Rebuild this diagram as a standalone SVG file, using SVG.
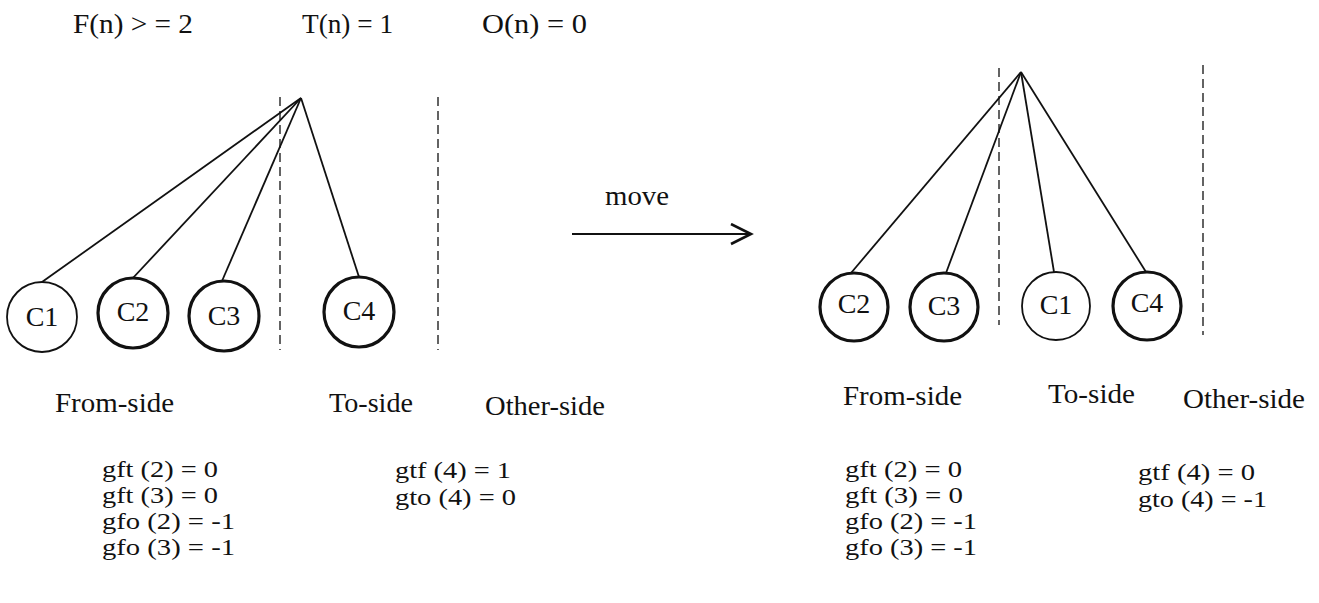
<svg xmlns="http://www.w3.org/2000/svg" width="1319" height="603" viewBox="0 0 1319 603">
<style>
text{font-family:"Liberation Serif","Times New Roman",serif;fill:#111;}
.h{font-size:27px;}
.eq{font-size:24px;}
.lb{font-size:27px;}
.cl{font-size:28px;text-anchor:middle;}
.edge{stroke:#111;stroke-width:1.8;fill:none;}
.dash{stroke:#222;stroke-width:1.4;stroke-dasharray:9 5;fill:none;}
.thin{fill:#fff;stroke:#111;stroke-width:1.8;}
.thick{fill:#fff;stroke:#111;stroke-width:3.2;}
</style>
<defs>
<marker id="chev" markerWidth="26" markerHeight="26" refX="21" refY="11" orient="auto" markerUnits="userSpaceOnUse">
<path d="M1,1 L21,11 L1,21" fill="none" stroke="#111" stroke-width="2.6"/>
</marker>
</defs>
<rect width="1319" height="603" fill="#fff"/>
<g id="header">
<text class="h" x="73" y="33" textLength="120" lengthAdjust="spacingAndGlyphs">F(n) &gt; = 2</text>
<text class="h" x="302" y="33" textLength="91" lengthAdjust="spacingAndGlyphs">T(n) = 1</text>
<text class="h" x="482" y="33" textLength="105" lengthAdjust="spacingAndGlyphs">O(n)  = 0</text>
</g>
<g id="dividers">
<line class="dash" x1="280" y1="97" x2="280" y2="350"/>
<line class="dash" x1="438" y1="97" x2="438" y2="350"/>
<line class="dash" x1="999" y1="68" x2="999" y2="325"/>
<line class="dash" x1="1203" y1="65" x2="1203" y2="335"/>
</g>
<g id="connectors">
<line class="edge" x1="301" y1="98" x2="42" y2="282"/>
<line class="edge" x1="301" y1="98" x2="132" y2="279"/>
<line class="edge" x1="301" y1="98" x2="222" y2="281"/>
<line class="edge" x1="301" y1="98" x2="359" y2="277"/>
<line class="edge" x1="1021" y1="72" x2="851" y2="273"/>
<line class="edge" x1="1021" y1="72" x2="946" y2="273"/>
<line class="edge" x1="1021" y1="72" x2="1054" y2="272"/>
<line class="edge" x1="1021" y1="72" x2="1146" y2="272"/>
<line class="edge" x1="572" y1="234" x2="751" y2="234" marker-end="url(#chev)" stroke-width="2.4"/>
<text class="lb" x="605" y="205" textLength="64" lengthAdjust="spacingAndGlyphs">move</text>
</g>
<g id="L-C1"><circle class="thin" cx="42" cy="317" r="35"/><text class="cl" x="42" y="326">C1</text></g>
<g id="L-C2"><circle class="thick" cx="133" cy="313" r="35"/><text class="cl" x="133" y="321">C2</text></g>
<g id="L-C3"><circle class="thick" cx="224" cy="316" r="35"/><text class="cl" x="224" y="325">C3</text></g>
<g id="L-C4"><circle class="thick" cx="359" cy="312" r="35"/><text class="cl" x="359" y="320">C4</text></g>
<g id="R-C2"><circle class="thick" cx="854" cy="307" r="34"/><text class="cl" x="854" y="313">C2</text></g>
<g id="R-C3"><circle class="thick" cx="944" cy="307" r="34"/><text class="cl" x="944" y="315">C3</text></g>
<g id="R-C1"><circle class="thin" cx="1056" cy="306" r="34"/><text class="cl" x="1056" y="314">C1</text></g>
<g id="R-C4"><circle class="thick" cx="1147" cy="306" r="34"/><text class="cl" x="1147" y="312">C4</text></g>
<g id="side-labels">
<text class="lb" x="55" y="412" textLength="119" lengthAdjust="spacingAndGlyphs">From-side</text>
<text class="lb" x="329" y="412" textLength="84" lengthAdjust="spacingAndGlyphs">To-side</text>
<text class="lb" x="485" y="415" textLength="120" lengthAdjust="spacingAndGlyphs">Other-side</text>
<text class="lb" x="843" y="405" textLength="119" lengthAdjust="spacingAndGlyphs">From-side</text>
<text class="lb" x="1048" y="403" textLength="87" lengthAdjust="spacingAndGlyphs">To-side</text>
<text class="lb" x="1183" y="408" textLength="122" lengthAdjust="spacingAndGlyphs">Other-side</text>
</g>
<g id="left-values">
<text class="eq" x="102" y="477" textLength="116" lengthAdjust="spacingAndGlyphs">gft (2) = 0</text>
<text class="eq" x="102" y="503" textLength="116" lengthAdjust="spacingAndGlyphs">gft (3) = 0</text>
<text class="eq" x="102" y="529" textLength="133" lengthAdjust="spacingAndGlyphs">gfo (2) = -1</text>
<text class="eq" x="102" y="555" textLength="133" lengthAdjust="spacingAndGlyphs">gfo (3) = -1</text>
<text class="eq" x="395" y="478" textLength="116" lengthAdjust="spacingAndGlyphs">gtf (4) = 1</text>
<text class="eq" x="395" y="505" textLength="121" lengthAdjust="spacingAndGlyphs">gto (4) = 0</text>
</g>
<g id="right-values">
<text class="eq" x="845" y="477" textLength="117" lengthAdjust="spacingAndGlyphs">gft (2) = 0</text>
<text class="eq" x="845" y="503" textLength="118" lengthAdjust="spacingAndGlyphs">gft (3) = 0</text>
<text class="eq" x="845" y="529" textLength="132" lengthAdjust="spacingAndGlyphs">gfo (2) = -1</text>
<text class="eq" x="845" y="555" textLength="132" lengthAdjust="spacingAndGlyphs">gfo (3) = -1</text>
<text class="eq" x="1138" y="480" textLength="117" lengthAdjust="spacingAndGlyphs">gtf (4) = 0</text>
<text class="eq" x="1138" y="507" textLength="129" lengthAdjust="spacingAndGlyphs">gto (4) = -1</text>
</g>
</svg>
